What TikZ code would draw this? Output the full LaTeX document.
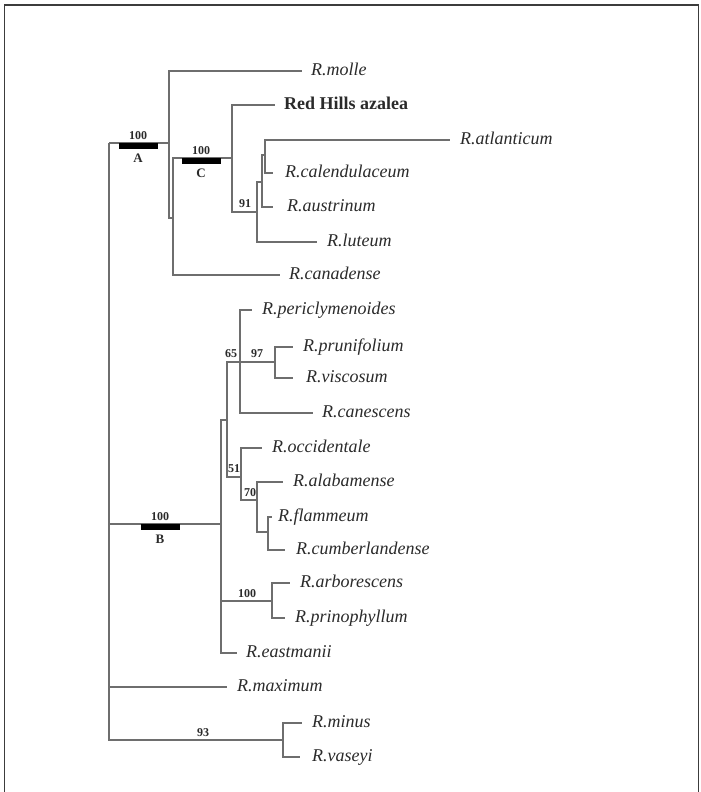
\documentclass[tikz,border=0pt]{standalone}
\usepackage{fontspec}
\setmainfont{Liberation Serif}
\definecolor{brgray}{HTML}{6E6E6E}
\definecolor{txt}{HTML}{2A2A2A}
\definecolor{framec}{HTML}{3C3C3C}
\begin{document}
\begin{tikzpicture}[x=1pt,y=-1pt,
  br/.style={draw=brgray, line width=1.3pt},
  leaf/.style={anchor=west, inner ysep=0pt, inner xsep=#1, text height=12pt, text depth=4pt,
    font=\fontsize{18}{20}\selectfont\itshape, text=txt},
  leaf/.default=10pt,
  boot/.style={inner sep=0pt, font=\fontsize{12}{13}\selectfont\bfseries, text=txt},
  clade/.style={inner sep=0pt, font=\fontsize{13}{14}\selectfont\bfseries, text=txt},
  bar/.style={fill=black, draw=none, minimum width=39pt, minimum height=6pt, inner sep=0pt},
  frameline/.style={draw=framec, line width=1.4pt}]
\useasboundingbox (0,0) rectangle (701,792);
\draw[frameline] (4.5,800) -- (4.5,5) -- (698.5,5) -- (698.5,800);

% internal nodes
\coordinate (root) at (109,143);
\coordinate (A) at (169,143);
\coordinate (I1) at (173,218);
\coordinate (C) at (232,158);
\coordinate (N91) at (257,212);
\coordinate (N1) at (262,182);
\coordinate (N2) at (265,155);
\coordinate (B) at (221,524);
\coordinate (N3) at (227,420);
\coordinate (N65) at (240,362);
\coordinate (N97) at (275,362);
\coordinate (N51) at (241,477);
\coordinate (N70) at (257,500);
\coordinate (N4) at (268,532);
\coordinate (N100) at (272,601);
\coordinate (N93) at (283,740);

% leaves
\node[leaf=9pt] (molle) at (302,71) {R.molle};
\node[leaf=9pt, font=\fontsize{18}{20}\selectfont\bfseries] (redhills) at (275,105) {Red Hills azalea};
\node[leaf] (atlanticum) at (450,140) {R.atlanticum};
\node[leaf=12pt] (calendulaceum) at (273,173) {R.calendulaceum};
\node[leaf=14pt] (austrinum) at (273,207) {R.austrinum};
\node[leaf] (luteum) at (317,242) {R.luteum};
\node[leaf=9pt] (canadense) at (280,275) {R.canadense};
\node[leaf] (periclymenoides) at (252,310) {R.periclymenoides};
\node[leaf] (prunifolium) at (293,347) {R.prunifolium};
\node[leaf=13pt] (viscosum) at (293,378) {R.viscosum};
\node[leaf=9pt] (canescens) at (313,413) {R.canescens};
\node[leaf] (occidentale) at (262,448) {R.occidentale};
\node[leaf] (alabamense) at (283,482) {R.alabamense};
\node[leaf=6pt] (flammeum) at (272,517) {R.flammeum};
\node[leaf=11pt] (cumberlandense) at (285,550) {R.cumberlandense};
\node[leaf] (arborescens) at (290,583) {R.arborescens};
\node[leaf] (prinophyllum) at (285,618) {R.prinophyllum};
\node[leaf=9pt] (eastmanii) at (237,653) {R.eastmanii};
\node[leaf] (maximum) at (227,687) {R.maximum};
\node[leaf] (minus) at (302,723) {R.minus};
\node[leaf=12pt] (vaseyi) at (300,757) {R.vaseyi};

% branches
\draw[br] (root) -- (A);
\draw[br] (root) |- (B);
\draw[br] (root) |- (maximum.west);
\draw[br] (root) |- (N93);
\draw[br] (A) |- (molle.west);
\draw[br] (A) |- (I1);
\draw[br] (I1) |- (C);
\draw[br] (I1) |- (canadense.west);
\draw[br] (C) |- (redhills.west);
\draw[br] (C) |- (N91);
\draw[br] (N91) |- (N1);
\draw[br] (N91) |- (luteum.west);
\draw[br] (N1) |- (N2);
\draw[br] (N1) |- (austrinum.west);
\draw[br] (N2) |- (atlanticum.west);
\draw[br] (N2) |- (calendulaceum.west);
\draw[br] (B) |- (N3);
\draw[br] (B) |- (N100);
\draw[br] (B) |- (eastmanii.west);
\draw[br] (N3) |- (N65);
\draw[br] (N3) |- (N51);
\draw[br] (N65) |- (periclymenoides.west);
\draw[br] (N65) -- (N97);
\draw[br] (N65) |- (canescens.west);
\draw[br] (N97) |- (prunifolium.west);
\draw[br] (N97) |- (viscosum.west);
\draw[br] (N51) |- (occidentale.west);
\draw[br] (N51) |- (N70);
\draw[br] (N70) |- (alabamense.west);
\draw[br] (N70) |- (N4);
\draw[br] (N4) |- (flammeum.west);
\draw[br] (N4) |- (cumberlandense.west);
\draw[br] (N100) |- (arborescens.west);
\draw[br] (N100) |- (prinophyllum.west);
\draw[br] (N93) |- (minus.west);
\draw[br] (N93) |- (vaseyi.west);

% clade bars and labels
\node[bar] (barA) at (138.5,146) {};
\node[boot] (bsA) at (138,136) {100};
\node[clade] (lA) at (138,158) {A};
\node[bar] (barC) at (201,161) {};
\node[boot] (bsC) at (201,151) {100};
\node[clade] (lC) at (201,173) {C};
\node[bar] (barB) at (160,527) {};
\node[boot] (bsB) at (160,517) {100};
\node[clade] (lB) at (160,539) {B};

% bootstrap values
\node[boot] (bs91) at (245,204) {91};
\node[boot] (bs65) at (231,354) {65};
\node[boot] (bs97) at (257,354) {97};
\node[boot] (bs51) at (234,469) {51};
\node[boot] (bs70) at (250,493) {70};
\node[boot] (bs100) at (247,594) {100};
\node[boot] (bs93) at (203,733) {93};
\end{tikzpicture}
\end{document}
